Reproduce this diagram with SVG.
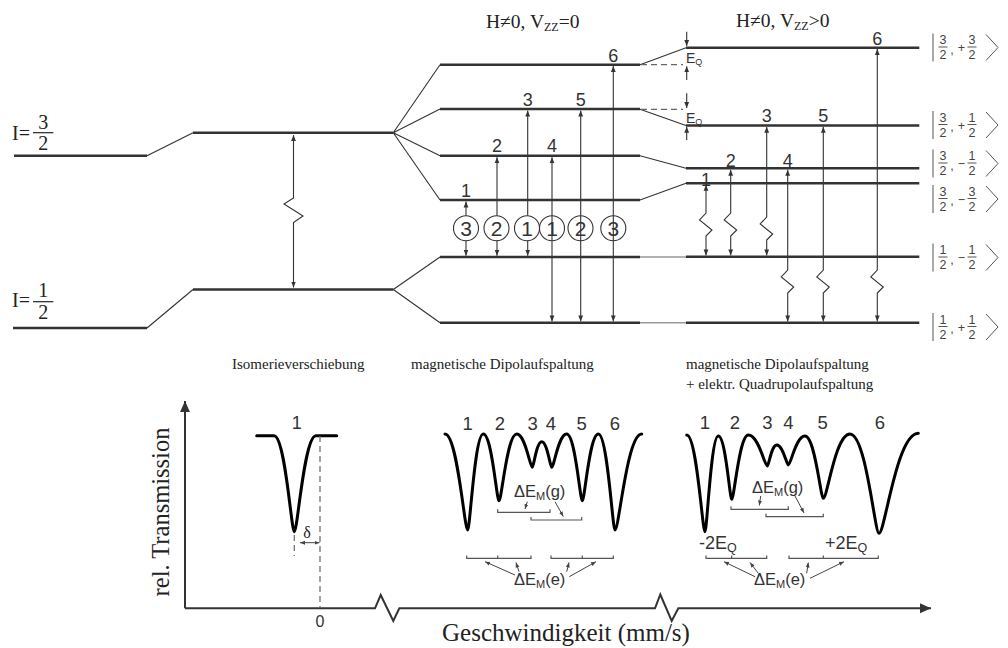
<svg xmlns="http://www.w3.org/2000/svg" width="1008" height="648" viewBox="0 0 1008 648">
<style>
.lvl{stroke:#333;stroke-width:2.6;fill:none}
.thin{stroke:#333;stroke-width:1.1;fill:none}
.light{stroke:#999;stroke-width:1.4;fill:none}
.dash{stroke:#666;stroke-width:1.2;stroke-dasharray:6 4;fill:none}
.arr2{stroke:#333;stroke-width:1.1;fill:none;marker-start:url(#ah);marker-end:url(#ah)}
.arr1{stroke:#333;stroke-width:1.1;fill:none;marker-end:url(#ah)}
.sarr{stroke:#444;stroke-width:1;fill:none;marker-end:url(#sh)}
.serif{font-family:"Liberation Serif","Times New Roman",serif;fill:#222}
.sans{font-family:"Liberation Sans",Arial,sans-serif;fill:#333}
.spec{stroke:#000;stroke-width:3;fill:none;stroke-linejoin:round;stroke-linecap:round}
.brk{stroke:#555;stroke-width:1.2;fill:none}
.circ{stroke:#333;stroke-width:1.1;fill:none}
.ket line,.ket path{stroke:#555;stroke-width:1;fill:none}
.ket text{font-family:"Liberation Sans",Arial,sans-serif;font-size:12.5px;fill:#444;text-anchor:middle}
.axis{stroke:#333;stroke-width:2;fill:none}
</style>
<defs>
<marker id="ah" viewBox="0 0 10 10" refX="10" refY="5" markerWidth="6" markerHeight="6" markerUnits="userSpaceOnUse" orient="auto-start-reverse"><path d="M0,1 L10,5 L0,9 z" fill="#333"/></marker>
<marker id="sh" viewBox="0 0 10 10" refX="10" refY="5" markerWidth="5" markerHeight="5" markerUnits="userSpaceOnUse" orient="auto-start-reverse"><path d="M0,1 L10,5 L0,9 z" fill="#444"/></marker>
<marker id="big" viewBox="0 0 10 10" refX="10" refY="5" markerWidth="11" markerHeight="11" markerUnits="userSpaceOnUse" orient="auto"><path d="M0,0.5 L10,5 L0,9.5 z" fill="#333"/></marker>
</defs>

<!-- Nuclear levels without field -->
<g id="level-I32">
<path class="lvl" d="M14,155.7 H147"/>
<path class="thin" d="M147,155.7 L193,132.7"/>
<path class="lvl" d="M193,132.7 H393.3"/>
<text class="serif" x="12" y="140" font-size="20">I=</text>
<text class="serif" x="43.3" y="128.5" font-size="20" text-anchor="middle">3</text>
<line x1="33" y1="132.7" x2="53.3" y2="132.7" stroke="#222" stroke-width="1.2"/>
<text class="serif" x="43.3" y="150" font-size="20" text-anchor="middle">2</text>
</g>
<g id="level-I12">
<path class="lvl" d="M13,328 H147"/>
<path class="thin" d="M147,328 L193,289.5"/>
<path class="lvl" d="M193,289.5 H393.3"/>
<text class="serif" x="12" y="307" font-size="20">I=</text>
<text class="serif" x="43.3" y="297" font-size="20" text-anchor="middle">1</text>
<line x1="33" y1="301.7" x2="53.3" y2="301.7" stroke="#222" stroke-width="1.2"/>
<text class="serif" x="43.3" y="318.5" font-size="20" text-anchor="middle">2</text>
</g>

<!-- Magnetic splitting levels -->
<g id="levels-magnetic">
<path class="thin" d="M393.3,132.7 L440,64.7 M393.3,132.7 L440,109 M393.3,132.7 L440,155.7 M393.3,132.7 L440,200"/>
<path class="thin" d="M393.3,289.5 L440,257 M393.3,289.5 L440,322.7"/>
<path class="lvl" d="M440,64.7 H640 M440,109 H640 M440,155.7 H640 M440,200 H640 M440,257 H640 M440,322.7 H640"/>
<text class="serif" x="486" y="27.5" font-size="19.5">H≠0, V<tspan font-size="12" dy="3">ZZ</tspan><tspan dy="-3">=0</tspan></text>
</g>

<!-- Transition between sections -->
<g id="levels-transition">
<path class="thin" d="M640,64.7 L686,47.7 M640,109.3 L686,125.5 M640,155.7 L686,168.3 M640,200 L686,183.3"/>
<path class="dash" d="M641,64.7 H683 M641,109.3 H683"/>
<path class="light" d="M640,257 H686 M640,322.7 H686"/>
</g>

<!-- Quadrupole-shifted levels -->
<g id="levels-quadrupole">
<path class="lvl" d="M686,47.7 H919.3 M686,125.5 H919.3 M686,168.3 H919.3 M686,183.3 H919.3 M686,256.7 H919.3 M686,322.7 H919.3"/>
<text class="serif" x="736" y="27" font-size="19.5">H≠0, V<tspan font-size="12" dy="3">ZZ</tspan><tspan dy="-3">&gt;0</tspan></text>
<text class="sans" x="686" y="63.3" font-size="14" fill="#444">E<tspan font-size="9" dy="1.5">Q</tspan></text>
<text class="sans" x="686" y="123.3" font-size="14" fill="#444">E<tspan font-size="9" dy="1.5">Q</tspan></text>
</g>

<!-- Kets -->
<g id="ket-32p32" class="ket" transform="translate(0,47.5)">
<line x1="933" y1="-14" x2="933" y2="14"/><text x="943" y="-3.5">3</text><line x1="938.5" y1="-0.5" x2="947.5" y2="-0.5"/><text x="943" y="11.5">2</text><text x="952" y="6">,</text><text x="961.5" y="4.5" font-size="15px">+</text><text x="972" y="-3.5">3</text><line x1="967.5" y1="-0.5" x2="976.5" y2="-0.5"/><text x="972" y="11.5">2</text><path d="M986,-13 L998,0 L986,13"/>
</g>
<g id="ket-32p12" class="ket" transform="translate(0,125)">
<line x1="933" y1="-14" x2="933" y2="14"/><text x="943" y="-3.5">3</text><line x1="938.5" y1="-0.5" x2="947.5" y2="-0.5"/><text x="943" y="11.5">2</text><text x="952" y="6">,</text><text x="961.5" y="4.5" font-size="15px">+</text><text x="972" y="-3.5">1</text><line x1="967.5" y1="-0.5" x2="976.5" y2="-0.5"/><text x="972" y="11.5">2</text><path d="M986,-13 L998,0 L986,13"/>
</g>
<g id="ket-32m12" class="ket" transform="translate(0,163.5)">
<line x1="933" y1="-14" x2="933" y2="14"/><text x="943" y="-3.5">3</text><line x1="938.5" y1="-0.5" x2="947.5" y2="-0.5"/><text x="943" y="11.5">2</text><text x="952" y="6">,</text><text x="961.5" y="4.5" font-size="15px">−</text><text x="972" y="-3.5">1</text><line x1="967.5" y1="-0.5" x2="976.5" y2="-0.5"/><text x="972" y="11.5">2</text><path d="M986,-13 L998,0 L986,13"/>
</g>
<g id="ket-32m32" class="ket" transform="translate(0,199)">
<line x1="933" y1="-14" x2="933" y2="14"/><text x="943" y="-3.5">3</text><line x1="938.5" y1="-0.5" x2="947.5" y2="-0.5"/><text x="943" y="11.5">2</text><text x="952" y="6">,</text><text x="961.5" y="4.5" font-size="15px">−</text><text x="972" y="-3.5">3</text><line x1="967.5" y1="-0.5" x2="976.5" y2="-0.5"/><text x="972" y="11.5">2</text><path d="M986,-13 L998,0 L986,13"/>
</g>
<g id="ket-12m12" class="ket" transform="translate(0,257.5)">
<line x1="933" y1="-14" x2="933" y2="14"/><text x="943" y="-3.5">1</text><line x1="938.5" y1="-0.5" x2="947.5" y2="-0.5"/><text x="943" y="11.5">2</text><text x="952" y="6">,</text><text x="961.5" y="4.5" font-size="15px">−</text><text x="972" y="-3.5">1</text><line x1="967.5" y1="-0.5" x2="976.5" y2="-0.5"/><text x="972" y="11.5">2</text><path d="M986,-13 L998,0 L986,13"/>
</g>
<g id="ket-12p12" class="ket" transform="translate(0,327)">
<line x1="933" y1="-14" x2="933" y2="14"/><text x="943" y="-3.5">1</text><line x1="938.5" y1="-0.5" x2="947.5" y2="-0.5"/><text x="943" y="11.5">2</text><text x="952" y="6">,</text><text x="961.5" y="4.5" font-size="15px">+</text><text x="972" y="-3.5">1</text><line x1="967.5" y1="-0.5" x2="976.5" y2="-0.5"/><text x="972" y="11.5">2</text><path d="M986,-13 L998,0 L986,13"/>
</g>

<!-- Intensity circles and line numbers (magnetic) -->
<g id="intensities">
<circle class="circ" cx="466" cy="228.3" r="12.5"/><circle class="circ" cx="496.5" cy="228.3" r="12.5"/><circle class="circ" cx="527" cy="228.3" r="12.5"/><circle class="circ" cx="552" cy="228.3" r="12.5"/><circle class="circ" cx="580.5" cy="228.3" r="12.5"/><circle class="circ" cx="613.3" cy="228.3" r="12.5"/>
<g class="sans" font-size="21" text-anchor="middle">
<text x="466" y="236">3</text><text x="496.5" y="236">2</text><text x="527" y="236">1</text><text x="552" y="236">1</text><text x="580.5" y="236">2</text><text x="613.3" y="236">3</text>
</g>
</g>
<g id="line-labels-mag" class="sans" font-size="18" text-anchor="middle">
<text x="466" y="197">1</text><text x="497" y="152">2</text><text x="527.7" y="106">3</text><text x="552" y="152">4</text><text x="580.7" y="106">5</text><text x="613.3" y="61.5">6</text>
</g>
<g id="line-labels-quad" class="sans" font-size="18" text-anchor="middle">
<text x="706" y="185.5">1</text><text x="730.7" y="166.5">2</text><text x="766.7" y="122">3</text><text x="787.7" y="166.5">4</text><text x="823.3" y="122">5</text><text x="877.3" y="45">6</text>
</g>

<!-- Connectors -->
<g id="connectors">
<path class="arr2" d="M293.5,135 V198 L284,204 L303,216 L293.5,222.5 V287.5"/>
<path class="arr1" d="M466,215.8 V201.5"/><path class="arr1" d="M466,240.8 V255.7"/>
<path class="arr1" d="M497,215.8 V157.2"/><path class="arr1" d="M497,240.8 V255.7"/>
<path class="arr1" d="M527.7,215.8 V110.5"/><path class="arr1" d="M527.7,240.8 V255.7"/>
<path class="arr2" d="M552,157.2 V321.4"/>
<path class="arr2" d="M580.7,110.5 V321.4"/>
<path class="arr2" d="M613.3,66 V321.4"/>
<path class="arr2" d="M706,184.8 V213 L699.5,220 L712,230 L706,236 V255.4"/>
<path class="arr2" d="M730.7,169.8 V213 L724.2,220 L736.7,230 L730.7,236 V255.4"/>
<path class="arr2" d="M766.7,126.8 V217 L760.2,224 L772.7,234 L766.7,240 V255.4"/>
<path class="arr2" d="M787.7,169.8 V270 L781.2,277 L793.7,287 L787.7,293 V321.4"/>
<path class="arr2" d="M823.3,126.8 V270 L816.8,277 L829.3,287 L823.3,293 V321.4"/>
<path class="arr2" d="M877.3,49 V270 L870.8,277 L883.3,287 L877.3,293 V321.4"/>
<path class="arr1" d="M686.7,31.7 V46"/><path class="arr1" d="M686.7,80 V66.2"/>
<path class="arr1" d="M686.7,93.3 V108"/><path class="arr1" d="M686.7,140 V126.8"/>
</g>

<!-- Section captions -->
<g id="captions" class="serif" font-size="15">
<text x="232" y="369">Isomerieverschiebung</text>
<text x="411" y="369">magnetische Dipolaufspaltung</text>
<text x="686" y="369">magnetische Dipolaufspaltung</text>
<text x="686" y="389">+ elektr. Quadrupolaufspaltung</text>
</g>

<!-- Axes -->
<g id="axes">
<path class="axis" d="M185,608.3 V401" marker-end="url(#big)"/>
<path class="axis" d="M185,608.3 H375 L380.7,595 L393.3,621 L399.3,608.3 H655 L660.3,594.5 L671.7,621 L678.3,608.3 H931" marker-end="url(#big)"/>
<text class="serif" font-size="24.5" text-anchor="middle" transform="translate(169,512) rotate(-90)">rel. Transmission</text>
<text class="serif" x="566" y="641" font-size="25" text-anchor="middle">Geschwindigkeit (mm/s)</text>
<text class="sans" x="320" y="627" font-size="16" text-anchor="middle">0</text>
</g>

<!-- Spectrum 1: isomer shift -->
<g id="spectrum-isomer">
<path class="spec" d="M256.7,435.7 H274 C285.2,435.7 291.3,531.7 294.3,531.7 C297.6,531.7 304.1,435.7 316,435.7 H336.7"/>
<text class="sans" x="296.7" y="429" font-size="18" text-anchor="middle">1</text>
<path class="dash" d="M320,436 V608" stroke-dasharray="4 3"/>
<path class="dash" d="M294.3,535 V556" stroke-dasharray="4 3"/>
<path class="sarr" d="M300,542.7 H319.5" marker-start="url(#sh)"/>
<text class="serif" x="307" y="538" font-size="16" text-anchor="middle" fill="#444">δ</text>
</g>

<!-- Spectrum 2: magnetic dipole splitting -->
<g id="spectrum-magnetic">
<path class="spec" d="M445,434 C457.5,434 464.3,530 467.7,530 C470,530 474.7,434 483.3,434 C491.9,434 496.6,500.7 499,500.7 C501.7,500.7 507,434 516.7,434 C525.3,434 530,467.3 532.3,467.3 C533.7,467.3 536.5,441.7 541.7,441.7 C547.2,441.7 550.2,467.3 551.7,467.3 C554,467.3 558.5,434 566.7,434 C575.3,434 580,500.7 582.3,500.7 C584.7,500.7 589.5,434 598.3,434 C607.5,434 612.5,530 615,530 C619,530 627,434 641.7,434"/>
<g class="sans" font-size="18.5" text-anchor="middle">
<text x="467.7" y="430">1</text><text x="500" y="430">2</text><text x="532.7" y="430">3</text><text x="551" y="430">4</text><text x="581.7" y="430">5</text><text x="615" y="430">6</text>
</g>
<text class="sans" x="514" y="496.7" font-size="16.5" fill="#444">ΔE<tspan font-size="11" dy="3">M</tspan><tspan dy="-3">(g)</tspan></text>
<path class="brk" d="M497.7,509.3 V512.3 H550 V509.3 M531,517 V520 H581.7 V517"/>
<path class="sarr" d="M527.3,501.7 L525,509"/>
<path class="sarr" d="M555,501.7 L563.3,516.5"/>
<path class="brk" d="M466.7,555.5 V558.3 H531 V555.5 M497.7,555.5 V558.3 M551,555.5 V558.3 H613.3 V555.5 M582.3,555.5 V558.3"/>
<text class="sans" x="514" y="585" font-size="16.5" fill="#444">ΔE<tspan font-size="11" dy="3">M</tspan><tspan dy="-3">(e)</tspan></text>
<path class="sarr" d="M515,575 L485,561.7"/>
<path class="sarr" d="M519,571.7 L516,562.5"/>
<path class="sarr" d="M566.7,571.7 L569,562.5"/>
<path class="sarr" d="M569.3,576.7 L596,561.7"/>
</g>

<!-- Spectrum 3: magnetic + quadrupole -->
<g id="spectrum-quadrupole">
<path class="spec" d="M686.7,435 C696.8,435 702.3,531.7 705,531.7 C707,531.7 711,436 718.3,436 C725.7,436 729.7,499.3 731.7,499.3 C734.2,499.3 739.2,435 748.3,435 C758.8,435 764.5,466 767.3,466 C768.7,466 771.5,445 776.7,445 C783,445 786.6,465 788.3,465 C790.8,465 795.8,436 805,436 C815,436 820.6,498.3 823.3,498.3 C827.3,498.3 835.3,434 850,434 C866,434 874.7,533.3 879,533.3 C884.9,533.3 896.7,433.3 918.3,433.3"/>
<g class="sans" font-size="18.5" text-anchor="middle">
<text x="705" y="429.3">1</text><text x="735" y="429.3">2</text><text x="767.3" y="429.3">3</text><text x="788.3" y="429.3">4</text><text x="822.7" y="429.3">5</text><text x="880" y="429.3">6</text>
</g>
<text class="sans" x="752" y="492.7" font-size="16.5" fill="#444">ΔE<tspan font-size="11" dy="3">M</tspan><tspan dy="-3">(g)</tspan></text>
<path class="brk" d="M731,506.3 V509.3 H788.3 V506.3 M766,513.7 V516.7 H823.3 V513.7"/>
<path class="sarr" d="M760.7,496 L759.3,505.5"/>
<path class="sarr" d="M795,496 L804,513"/>
<text class="sans" x="699" y="549.3" font-size="18">-2E<tspan font-size="12.5" dy="3">Q</tspan></text>
<text class="sans" x="825" y="549.3" font-size="18">+2E<tspan font-size="12.5" dy="3">Q</tspan></text>
<path class="brk" d="M706,555.5 V558.3 H766.7 V555.5 M731.7,555.5 V558.3 M789,555.5 V558.3 H878.3 V555.5 M823.3,555.5 V558.3"/>
<text class="sans" x="754" y="585" font-size="16.5" fill="#444">ΔE<tspan font-size="11" dy="3">M</tspan><tspan dy="-3">(e)</tspan></text>
<path class="sarr" d="M755,576.7 L724,561.7"/>
<path class="sarr" d="M758.3,573.3 L750,562.5"/>
<path class="sarr" d="M806.7,573.3 L808.3,562.5"/>
<path class="sarr" d="M810,578.3 L844,561.7"/>
</g>
</svg>
